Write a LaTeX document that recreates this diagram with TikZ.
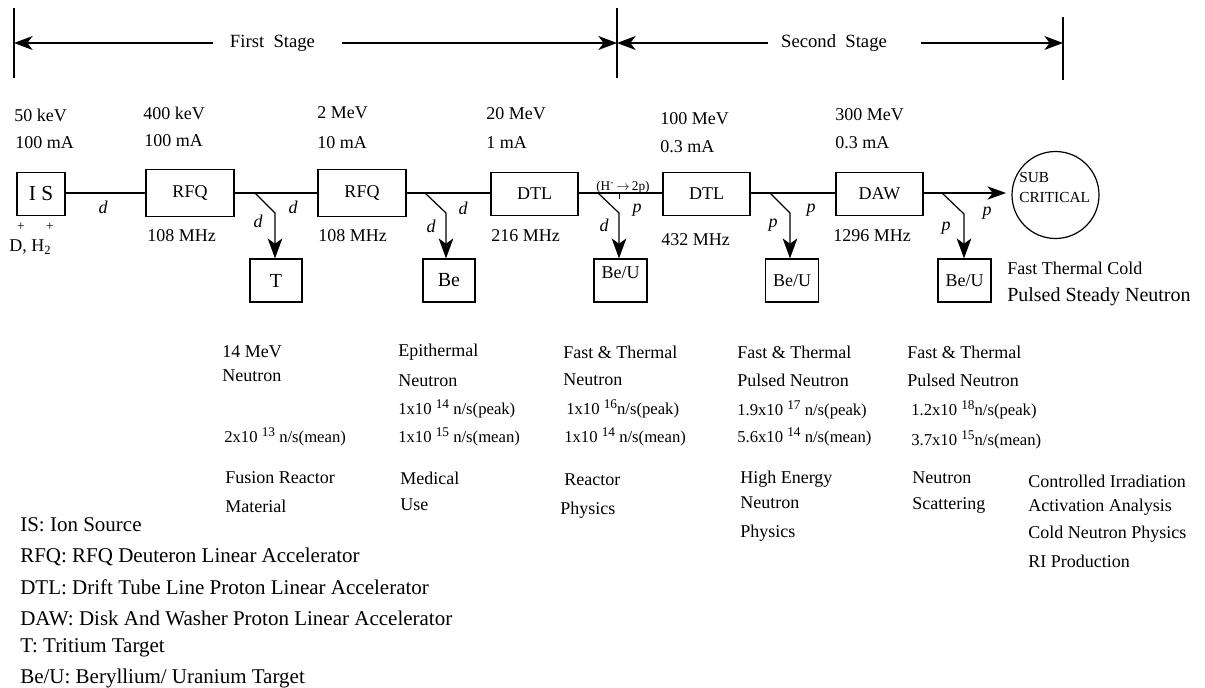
\documentclass[tikz,border=0pt]{standalone}
\usepackage{fontspec}
\setmainfont{Liberation Serif}
\usetikzlibrary{arrows.meta}
\newcommand{\sups}[1]{\raisebox{0.75ex}{\fontsize{10}{10}\selectfont #1}}
\begin{document}
\begin{tikzpicture}[x=0.75pt,y=-0.75pt,
  box/.style={draw, line width=0.9pt, inner sep=0pt, font=\fontsize{13.5}{16}\selectfont},
  lbl/.style={anchor=west, inner sep=0pt, font=\fontsize{13.5}{16}\selectfont},
  num/.style={anchor=west, inner sep=0pt, font=\fontsize{12.5}{15}\selectfont},
  leg/.style={anchor=west, inner sep=0pt, font=\fontsize{15.75}{19}\selectfont},
  it/.style={inner sep=0pt, font=\fontsize{13.5}{16}\selectfont\itshape},
  beam/.style={line width=0.9pt},
  branch/.style={line width=0.9pt, -{Stealth[length=15pt,width=11pt,inset=4pt]}},
  stagearr/.style={line width=0.9pt, -{Stealth[length=14pt,width=10.5pt,inset=4pt]}},
  bar/.style={line width=0.9pt}]
\useasboundingbox (0,0) rectangle (1205,688);

% stage bars
\coordinate (l0) at (14,43);
\coordinate (m0) at (617,43);
\coordinate (r0) at (1063,43);
\coordinate (lt) at (14,8);  \coordinate (lb) at (14,78);
\coordinate (mt) at (617,8); \coordinate (mb) at (617,78);
\coordinate (rt) at (1063,17); \coordinate (rb) at (1063,80);
\draw[bar] (lt) -- (lb);
\draw[bar] (mt) -- (mb);
\draw[bar] (rt) -- (rb);
\node[inner sep=0pt, font=\fontsize{14}{16}\selectfont] (FS) at (272.5,43) {First\ \ Stage};
\node[inner sep=0pt, font=\fontsize{14}{16}\selectfont] (SS) at (834,43) {Second\ \ Stage};
\coordinate (fsl) at (213,43);
\coordinate (fsr) at (342,43);
\coordinate (ssl) at (768,43);
\coordinate (ssr) at (921,43);
\draw[stagearr] (fsl) -- (l0);
\draw[stagearr] (fsr) -- (m0);
\draw[stagearr] (ssl) -- (m0);
\draw[stagearr] (ssr) -- (r0);

% boxes
\node[box, minimum width=36pt, minimum height=32.25pt, font=\fontsize{16}{18}\selectfont] (IS) at (41,194) {I S};
\node[box, minimum width=66pt, minimum height=35.25pt] (RFQa) at (190,193) {RFQ};
\node[box, minimum width=66pt, minimum height=35.25pt] (RFQb) at (362,193) {RFQ};
\node[box, minimum width=65.25pt, minimum height=32.25pt] (DTLa) at (534.5,194) {DTL};
\node[box, minimum width=65.25pt, minimum height=32.25pt] (DTLb) at (706.5,194) {DTL};
\node[box, minimum width=65.25pt, minimum height=32.25pt] (DAW) at (879.5,194) {DAW};
\node[box, minimum width=39pt, minimum height=32.25pt, font=\fontsize{15}{17}\selectfont] (T) at (276,280.5) {T};
\node[box, minimum width=39pt, minimum height=32.25pt, font=\fontsize{15}{17}\selectfont] (Be) at (449,280.5) {Be};
\node[box, minimum width=39.75pt, minimum height=32.25pt, text height=9.5pt, text depth=12.5pt] (BeUa) at (620.5,280.5) {Be/U};
\node[box, minimum width=39.75pt, minimum height=32.25pt] (BeUb) at (792,280.5) {Be/U};
\node[box, minimum width=39.75pt, minimum height=32.25pt] (BeUc) at (964.5,280.5) {Be/U};
\node[draw, circle, line width=0.9pt, minimum size=65.25pt, inner sep=0pt] (SC) at (1055.5,195) {};
\node[anchor=west, inner sep=0pt, align=left, font=\fontsize{11.5}{15.5}\selectfont] (SCt) at (1019,187.5) {SUB\\CRITICAL};

% beam line
\draw[beam] (IS.east |- 0,193) -- (RFQa.west);
\draw[beam] (RFQa.east) -- (RFQb.west);
\draw[beam] (RFQb.east) -- (DTLa.west |- 0,193);
\draw[beam] (DTLa.east |- 0,193) -- (DTLb.west |- 0,193);
\draw[beam] (DTLb.east |- 0,193) -- (DAW.west |- 0,193);
\draw[beam, -{Stealth[length=14pt,width=10pt,inset=4pt]}, shorten >=4pt] (DAW.east |- 0,193) -- (SC.west |- 0,193);

% branches
\coordinate (b1s) at (255,193); \coordinate (b1k) at (275,213);
\coordinate (b2s) at (425,193); \coordinate (b2k) at (446,213);
\coordinate (b3s) at (598,193); \coordinate (b3k) at (619,213);
\coordinate (b4s) at (770,193); \coordinate (b4k) at (790,213);
\coordinate (b5s) at (942,193); \coordinate (b5k) at (964,214);
\draw[branch] (b1s) -- (b1k) -- (b1k |- T.north);
\draw[branch] (b2s) -- (b2k) -- (b2k |- Be.north);
\draw[branch] (b3s) -- (b3k) -- (b3k |- BeUa.north);
\draw[branch] (b4s) -- (b4k) -- (b4k |- BeUb.north);
\draw[branch] (b5s) -- (b5k) -- (b5k |- BeUc.north);

% particle labels
\node[it] (d1) at (103,207) {d};
\node[it] (d2) at (293,207) {d};
\node[it] (d3) at (258,221) {d};
\node[it] (d4) at (463,208) {d};
\node[it] (d5) at (431,226) {d};
\node[it] (p1) at (637,210) {p};
\node[it] (d6) at (604,225) {d};
\node[it] (p2) at (811,210) {p};
\node[it] (p3) at (773,225) {p};
\node[it] (p4) at (987,213) {p};
\node[it] (p5) at (946,228) {p};
\node[anchor=west, inner sep=0pt, font=\fontsize{10}{11}\selectfont] (conv) at (596,187) {(H\textsuperscript{-}\,$\rightarrow$\,2p)};
\coordinate (tk1) at (619,193); \coordinate (tk2) at (619,199);
\draw[line width=0.6pt] (tk1) -- (tk2);

% ion species
\node[inner sep=0pt, font=\fontsize{10}{10}\selectfont] (pl1) at (21,227) {+};
\node[inner sep=0pt, font=\fontsize{10}{10}\selectfont] (pl2) at (50,227) {+};
\node[lbl] (ions) at (9,247) {D, H\textsubscript{2}};

% energies
\node[lbl] (e1) at (14,115) {50 keV};
\node[lbl] (c1) at (15,143) {100 mA};
\node[lbl] (e2) at (143,113) {400 keV};
\node[lbl] (c2) at (144,141) {100 mA};
\node[lbl] (e3) at (317,113) {2 MeV};
\node[lbl] (c3) at (317,143) {10 mA};
\node[lbl] (e4) at (486,114) {20 MeV};
\node[lbl] (c4) at (486,143) {1 mA};
\node[lbl] (e5) at (660,119) {100 MeV};
\node[lbl] (c5) at (660,147) {0.3 mA};
\node[lbl] (e6) at (835,115) {300 MeV};
\node[lbl] (c6) at (835,143) {0.3 mA};

% frequencies
\node[lbl] (f1) at (147,236) {108 MHz};
\node[lbl] (f2) at (318,236) {108 MHz};
\node[lbl] (f3) at (491,236) {216 MHz};
\node[lbl] (f4) at (661,240) {432 MHz};
\node[lbl] (f5) at (833,236) {1296 MHz};

\node[lbl] (ftc) at (1007,268) {Fast Thermal Cold};
\node[lbl, font=\fontsize{15}{17}\selectfont] (psn) at (1007,297) {Pulsed Steady Neutron};

% column 1
\node[lbl] (a1) at (222,352) {14 MeV};
\node[lbl] (a2) at (222,376) {Neutron};
\node[num] (a3) at (224,437) {2x10 \sups{13} n/s(mean)};
\node[lbl] (a4) at (225,478) {Fusion Reactor};
\node[lbl] (a5) at (225,506) {Material};
% column 2
\node[lbl] (g1) at (398,352) {Epithermal};
\node[lbl] (g2) at (398,381) {Neutron};
\node[num] (g3) at (398,409) {1x10 \sups{14} n/s(peak)};
\node[num] (g4) at (398,437) {1x10 \sups{15} n/s(mean)};
\node[lbl] (g5) at (400,478) {Medical};
\node[lbl] (g6) at (400,505) {Use};
% column 3
\node[lbl] (h1) at (563,352) {Fast \& Thermal};
\node[lbl] (h2) at (563,380) {Neutron};
\node[num] (h3) at (566,409) {1x10 \sups{16}n/s(peak)};
\node[num] (h4) at (564,437) {1x10 \sups{14} n/s(mean)};
\node[lbl] (h5) at (564,480) {Reactor};
\node[lbl] (h6) at (560,510) {Physics};
% column 4
\node[lbl] (k1) at (737,352) {Fast \& Thermal};
\node[lbl] (k2) at (737,380) {Pulsed Neutron};
\node[num] (k3) at (737,410) {1.9x10 \sups{17} n/s(peak)};
\node[num] (k4) at (737,437) {5.6x10 \sups{14} n/s(mean)};
\node[lbl] (k5) at (740,479) {High Energy};
\node[lbl] (k6) at (740,503) {Neutron};
\node[lbl] (k7) at (740,533) {Physics};
% column 5
\node[lbl] (m1) at (907,352) {Fast \& Thermal};
\node[lbl] (m2) at (907,380) {Pulsed Neutron};
\node[num] (m3) at (911,410) {1.2x10 \sups{18}n/s(peak)};
\node[num] (m4) at (911,440) {3.7x10 \sups{15}n/s(mean)};
\node[lbl] (m5) at (912,478) {Neutron};
\node[lbl] (m6) at (912,505) {Scattering};
% column 6
\node[lbl] (n1) at (1028,481) {Controlled Irradiation};
\node[lbl] (n2) at (1028,507) {Activation Analysis};
\node[lbl] (n3) at (1028,534) {Cold Neutron Physics};
\node[lbl] (n4) at (1028,561) {RI Production};

% legend
\node[leg] (L1) at (20,525) {IS: Ion Source};
\node[leg] (L2) at (20,557) {RFQ: RFQ Deuteron Linear Accelerator};
\node[leg] (L3) at (20,587) {DTL: Drift Tube Line Proton Linear Accelerator};
\node[leg] (L4) at (20,618) {DAW: Disk And Washer Proton Linear Accelerator};
\node[leg] (L5) at (20,648) {T: Tritium Target};
\node[leg] (L6) at (20,678) {Be/U: Beryllium/ Uranium Target};
\end{tikzpicture}
\end{document}
